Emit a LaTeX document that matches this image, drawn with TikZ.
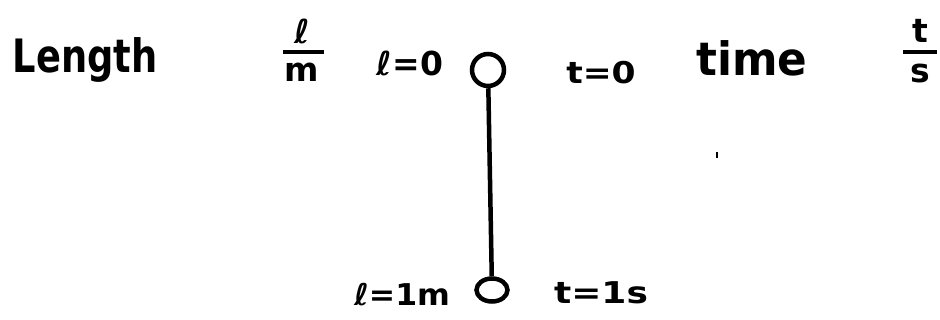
\documentclass[tikz,border=0pt]{standalone}
\usepackage{fontspec}
\setmainfont{DejaVu Sans}
\usetikzlibrary{shapes.geometric}
\begin{document}
\begin{tikzpicture}[x=1pt,y=-1pt,
  lbl/.style={inner sep=0pt, text=black},
  big/.style={lbl, font=\bfseries\fontsize{46}{46}\selectfont},
  mid/.style={lbl, font=\bfseries\fontsize{33}{33}\selectfont},
  small/.style={lbl, font=\bfseries\fontsize{30}{30}\selectfont},
  ring/.style={draw, line width=4.5pt, inner sep=0pt},
  stroke/.style={line width=4.5pt}]
\useasboundingbox (0,0) rectangle (940,320);
% top labels
\node[big, xscale=0.8] (length) at (85,60) {Length};
\node[mid] (lnum) at (302,31) {ℓ};
\node[mid] (lden) at (302,72) {m};
\draw[stroke] (283,52) -- (324,52);
\node[mid] (l0) at (410,63) {ℓ=0};
\node[ring, circle, minimum size=32pt] (top) at (488,70) {};
\node[small, xscale=1.15] (t0) at (601,73) {t=0};
\node[big, xscale=0.95] (time) at (752,58) {time};
\node[mid] (tnum) at (920,31) {t};
\node[mid] (tden) at (920,73) {s};
\draw[stroke] (903,52) -- (937,52);
% bottom
\node[ring, ellipse, minimum width=31pt, minimum height=23pt] (bot) at (492,290) {};
\node[small, xscale=1.05] (l1) at (402,295) {ℓ=1m};
\node[small, xscale=1.2] (t1) at (601,293) {t=1s};
\draw[stroke] (top) -- (bot);
% stray mark
\draw[line width=2.5pt] (717,152) -- (717,158);
\end{tikzpicture}
\end{document}
